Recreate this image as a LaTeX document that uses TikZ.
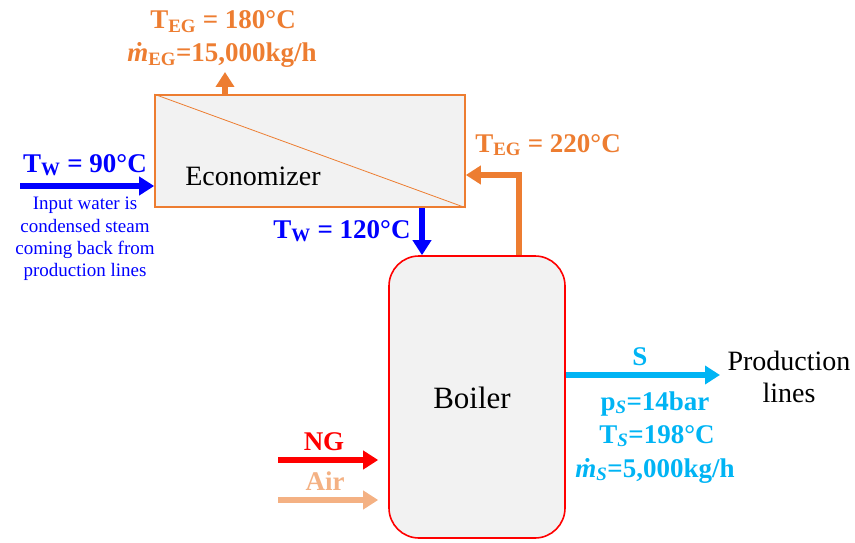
\documentclass[tikz,border=0pt]{standalone}
\usepackage{fontspec}
\setmainfont{Liberation Serif}
\usetikzlibrary{arrows.meta}

\definecolor{egorange}{HTML}{ED7D31}
\definecolor{water}{HTML}{0000FF}
\definecolor{steam}{HTML}{00B4F4}
\definecolor{ngred}{HTML}{FF0000}
\definecolor{airtan}{HTML}{F4B183}
\definecolor{boxfill}{HTML}{F2F2F2}

\tikzset{
  eqbox/.style={fill=boxfill,line width=1.6pt,inner sep=0pt},
  flow/.style={line width=5.5pt,-{Triangle[width=18pt,length=15pt]}},
  lbl/.style={font=\fontsize{27}{32}\selectfont\bfseries,inner sep=0pt},
  txt/.style={font=\fontsize{28}{32}\selectfont,inner sep=0pt},
  note/.style={font=\fontsize{19}{22.3}\selectfont,align=center,inner sep=0pt}
}

\begin{document}
\begin{tikzpicture}[x=1pt,y=-1pt]
\useasboundingbox (0,0) rectangle (855,543);
% equipment
\node[eqbox,draw=egorange,minimum width=310pt,minimum height=112pt] (eco) at (310,151) {};
\draw[egorange,line width=0.8pt] (eco.north west) -- (eco.south east);
\node[eqbox,draw=ngred,rounded corners=30pt,minimum width=176pt,minimum height=282pt] (boil) at (477,397) {};
\node[txt,anchor=base] (ecoTxt) at (253,185) {Economizer};
\node[txt,font=\fontsize{31}{34}\selectfont,anchor=base] (boilTxt) at (472,408) {Boiler};
% flows
\coordinate (wIn) at (20,186);
\coordinate (egOut) at (225,72);
\coordinate (wDown) at (422,256);
\coordinate (egIn) at (519,175);
\coordinate (sOut) at (720,375);
\coordinate (ngIn) at (278,460);
\coordinate (airIn) at (278,500);
\draw[flow,water] (wIn) -- (wIn -| eco.west);
\draw[flow,egorange] (egOut |- eco.north) -- (egOut);
\draw[flow,water] (wDown |- eco.south) -- (wDown |- boil.north);
\draw[flow,egorange] (egIn |- boil.north) -- (egIn) -- (egIn -| eco.east);
\draw[flow,steam] (sOut -| boil.east) -- (sOut);
\draw[flow,ngred,shorten >=10pt] (ngIn) -- (ngIn -| boil.west);
\draw[flow,airtan,shorten >=10pt] (airIn) -- (airIn -| boil.west);
% labels
\node[lbl,egorange,anchor=base] (tEGout) at (223,29) {T\textsubscript{EG} = 180°C};
\node[lbl,egorange,anchor=base] (mEG) at (222,62) {\textit{\.m}\textsubscript{EG}=15,000kg/h};
\node[lbl,water,anchor=base] (tWin) at (85,172) {T\textsubscript{W} = 90°C};
\node[note,water,anchor=north] (wNote) at (85,197) {Input water is\\condensed steam\\coming back from\\production lines};
\node[lbl,water,anchor=base] (tWout) at (342,238) {T\textsubscript{W} = 120°C};
\node[lbl,egorange,anchor=base] (tEGin) at (548,152) {T\textsubscript{EG} = 220°C};
\node[lbl,steam,anchor=base] (sTxt) at (640,365) {S};
\node[lbl,steam,anchor=base] (pS) at (655,410) {p\textsubscript{\textit{S}}=14bar};
\node[lbl,steam,anchor=base] (tS) at (657,443) {T\textsubscript{\textit{S}}=198°C};
\node[lbl,steam,anchor=base] (mS) at (655,477) {\textit{\.m}\textsubscript{\textit{S}}=5,000kg/h};
\node[txt,align=center,anchor=north] (prodTxt) at (789,351) {Production\\lines};
\node[lbl,ngred,anchor=base] (ngTxt) at (324,450) {NG};
\node[lbl,airtan,anchor=base] (airTxt) at (325,490) {Air};
\end{tikzpicture}
\end{document}
